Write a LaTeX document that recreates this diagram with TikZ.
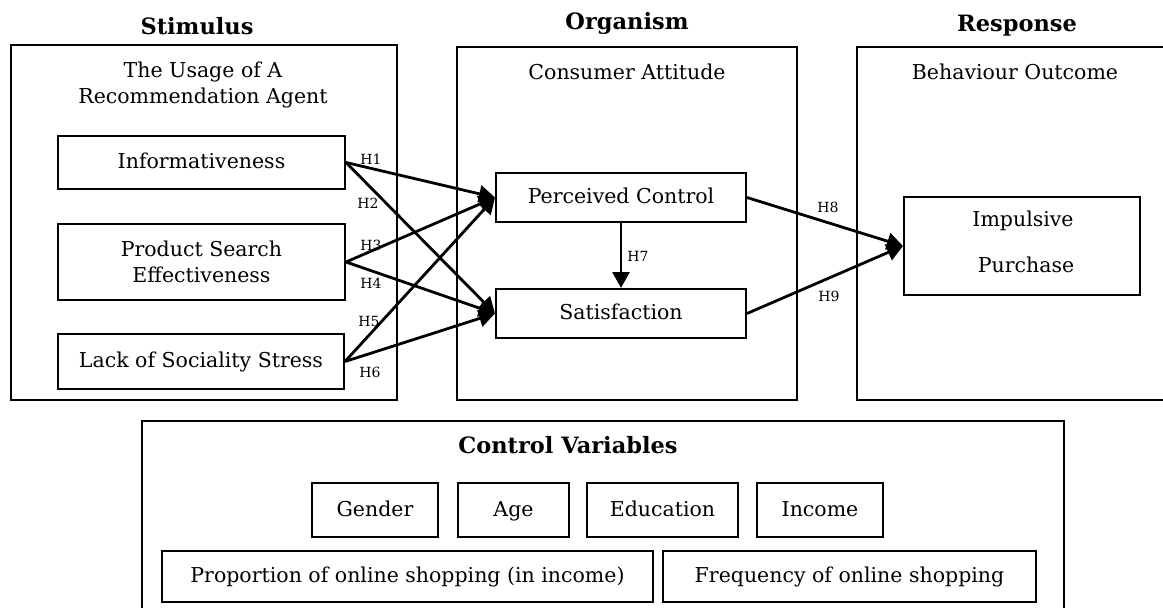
\documentclass[tikz,border=0pt]{standalone}
\usepackage{fontspec}
\setmainfont{DejaVu Serif}
\usetikzlibrary{arrows.meta}
\tikzset{
  box/.style={draw, line width=2pt, inner sep=0pt, align=center, font=\fontsize{20.5}{26}\selectfont},
  sl/.style={text height=15pt, text depth=3pt},
  lbl/.style={inner sep=0pt, align=center, font=\fontsize{20.5}{26}\selectfont},
  ttl/.style={inner sep=0pt, font=\bfseries\fontsize{22.5}{26}\selectfont},
  hyp/.style={inner sep=0pt, font=\fontsize{14}{16}\selectfont},
  arr/.style={line width=2.8pt, -{Triangle[length=16pt,width=17pt]}}
}
\begin{document}
\begin{tikzpicture}[x=1pt,y=-1pt]
\useasboundingbox (0,0) rectangle (1163,608);
% containers
\node[box, minimum width=386pt, minimum height=355pt] (stim) at (204,222.5) {};
\node[box, minimum width=340pt, minimum height=353pt] (org) at (627,223.5) {};
\draw[line width=2pt] (1164,47) -- (857,47) -- (857,400) -- (1164,400);
\draw[line width=2pt] (142,609) -- (142,421) -- (1064,421) -- (1064,609);
% titles
\node[ttl] (tstim) at (197,26) {Stimulus};
\node[ttl] (torg) at (627,23) {Organism};
\node[ttl] (tresp) at (1017,26) {Response};
\node[lbl] (sstim) at (203,85) {The Usage of A\\Recommendation Agent};
\node[lbl] (sorg) at (627,72) {Consumer Attitude};
\node[lbl] (sresp) at (1015,72) {Behaviour Outcome};
% inner boxes
\node[box, sl, minimum width=287pt, minimum height=53pt] (info) at (201.5,162.5) {Informativeness};
\node[box, minimum width=287pt, minimum height=76pt] (pse) at (201.5,262) {Product Search\\Effectiveness};
\node[box, sl, minimum width=286pt, minimum height=55pt] (lss) at (201,361.5) {Lack of Sociality Stress};
\node[box, sl, minimum width=250pt, minimum height=49pt] (pc) at (621,197.5) {Perceived Control};
\node[box, sl, minimum width=250pt, minimum height=49pt] (sat) at (621,313.5) {Satisfaction};
\node[box, minimum width=236pt, minimum height=98pt] (imp) at (1022,246) {};
\node[lbl] (imp1) at (1023,221) {Impulsive};
\node[lbl] (imp2) at (1026,265) {Purchase};
% arrows
\draw[arr] (info.east) -- (pc.west);
\draw[arr] (info.east) -- (sat.west);
\draw[arr] (pse.east) -- (pc.west);
\draw[arr] (pse.east) -- (sat.west);
\draw[arr] (lss.east) -- (pc.west);
\draw[arr] (lss.east) -- (sat.west);
\draw[arr] (pc.south) -- (sat.north);
\draw[arr] (pc.east) -- (imp.west);
\draw[arr] (sat.east) -- (imp.west);
% hypothesis labels
\node[hyp] (h1) at (371,159) {H1};
\node[hyp] (h2) at (368,203) {H2};
\node[hyp] (h3) at (371,245) {H3};
\node[hyp] (h4) at (371,283) {H4};
\node[hyp] (h5) at (369,321) {H5};
\node[hyp] (h6) at (370,372) {H6};
\node[hyp] (h7) at (638,256) {H7};
\node[hyp] (h8) at (828,207) {H8};
\node[hyp] (h9) at (829,296) {H9};
% control variables
\node[ttl] (tctl) at (568,445) {Control Variables};
\node[box, sl, minimum width=126pt, minimum height=54pt] (gen) at (375,510) {Gender};
\node[box, sl, minimum width=111pt, minimum height=54pt] (age) at (513.5,510) {Age};
\node[box, sl, minimum width=151pt, minimum height=54pt] (edu) at (662.5,510) {Education};
\node[box, sl, minimum width=126pt, minimum height=54pt] (inc) at (820,510) {Income};
\node[box, sl, minimum width=491pt, minimum height=51pt] (prop) at (407.5,576.5) {Proportion of online shopping (in income)};
\node[box, sl, minimum width=373pt, minimum height=51pt] (freq) at (849.5,576.5) {Frequency of online shopping};
\end{tikzpicture}
\end{document}
